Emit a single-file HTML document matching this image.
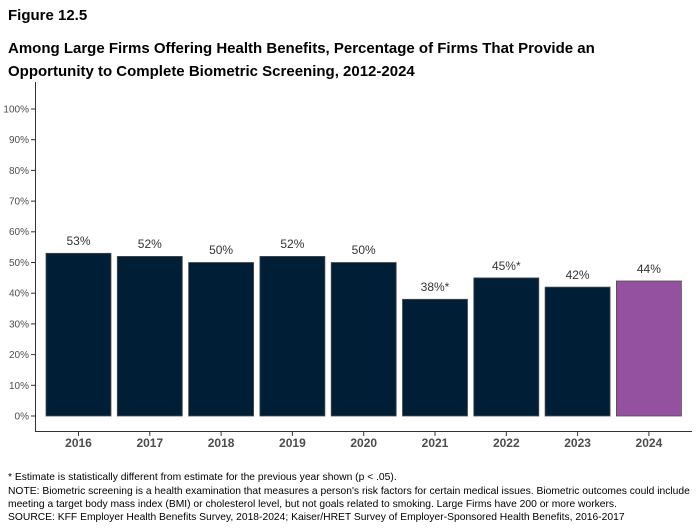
<!DOCTYPE html>
<html><head><style>
body{margin:0;background:#fff;font-family:"Liberation Sans",Arial,sans-serif;}
</style></head><body>
<svg width="698" height="525" xmlns="http://www.w3.org/2000/svg" font-family="Liberation Sans, Arial, sans-serif">
<text x="8" y="20" font-size="15" font-weight="bold">Figure 12.5</text>
<text x="8" y="53" font-size="15" font-weight="bold">Among Large Firms Offering Health Benefits, Percentage of Firms That Provide an</text>
<text x="8" y="76" font-size="15" font-weight="bold">Opportunity to Complete Biometric Screening, 2012-2024</text>
<g font-size="10" fill="#4d4d4d" text-anchor="end">
<text x="29" y="419.5">0%</text><text x="29" y="389">10%</text><text x="29" y="358">20%</text><text x="29" y="327.5">30%</text><text x="29" y="296.5">40%</text><text x="29" y="266">50%</text><text x="29" y="235">60%</text><text x="29" y="204.5">70%</text><text x="29" y="174">80%</text><text x="29" y="143">90%</text><text x="29" y="112.5">100%</text>
</g>
<g stroke="#333" stroke-width="1">
<line x1="31" x2="35" y1="416" y2="416"/><line x1="31" x2="35" y1="385.3" y2="385.3"/><line x1="31" x2="35" y1="354.6" y2="354.6"/><line x1="31" x2="35" y1="323.9" y2="323.9"/><line x1="31" x2="35" y1="293.2" y2="293.2"/><line x1="31" x2="35" y1="262.5" y2="262.5"/><line x1="31" x2="35" y1="231.8" y2="231.8"/><line x1="31" x2="35" y1="201.1" y2="201.1"/><line x1="31" x2="35" y1="170.4" y2="170.4"/><line x1="31" x2="35" y1="139.7" y2="139.7"/><line x1="31" x2="35" y1="109" y2="109"/>
</g>
<g stroke="#4d4d4d" stroke-width="0.8">
<rect x="46" y="253.3" width="65" height="162.7" fill="#001f36"/>
<rect x="117.3" y="256.4" width="65" height="159.6" fill="#001f36"/>
<rect x="188.6" y="262.5" width="65" height="153.5" fill="#001f36"/>
<rect x="259.9" y="256.4" width="65" height="159.6" fill="#001f36"/>
<rect x="331.2" y="262.5" width="65" height="153.5" fill="#001f36"/>
<rect x="402.5" y="299.3" width="65" height="116.7" fill="#001f36"/>
<rect x="473.8" y="277.9" width="65" height="138.1" fill="#001f36"/>
<rect x="545.1" y="287.1" width="65" height="128.9" fill="#001f36"/>
<rect x="616.4" y="281" width="65" height="135" fill="#9451a0"/>
</g>
<g font-size="12" fill="#333" text-anchor="middle">
<text x="78.5" y="245">53%</text><text x="149.8" y="248">52%</text><text x="221.1" y="254">50%</text><text x="292.4" y="248">52%</text><text x="363.7" y="254">50%</text><text x="435" y="291">38%*</text><text x="506.3" y="270">45%*</text><text x="577.6" y="279">42%</text><text x="648.9" y="273">44%</text>
</g>
<line x1="35.5" y1="82" x2="35.5" y2="432" stroke="#333"/>
<line x1="35" y1="431.5" x2="692" y2="431.5" stroke="#333"/>
<g stroke="#333"><line x1="78.5" x2="78.5" y1="432" y2="436"/><line x1="149.8" x2="149.8" y1="432" y2="436"/><line x1="221.1" x2="221.1" y1="432" y2="436"/><line x1="292.4" x2="292.4" y1="432" y2="436"/><line x1="363.7" x2="363.7" y1="432" y2="436"/><line x1="435" x2="435" y1="432" y2="436"/><line x1="506.3" x2="506.3" y1="432" y2="436"/><line x1="577.6" x2="577.6" y1="432" y2="436"/><line x1="648.9" x2="648.9" y1="432" y2="436"/></g>
<g font-size="12" font-weight="bold" fill="#4d4d4d" text-anchor="middle">
<text x="78.5" y="447">2016</text><text x="149.8" y="447">2017</text><text x="221.1" y="447">2018</text><text x="292.4" y="447">2019</text><text x="363.7" y="447">2020</text><text x="435" y="447">2021</text><text x="506.3" y="447">2022</text><text x="577.6" y="447">2023</text><text x="648.9" y="447">2024</text>
</g>
<g font-size="10.3" fill="#000">
<text x="8" y="480">* Estimate is statistically different from estimate for the previous year shown (p &lt; .05).</text>
<text x="8" y="494">NOTE: Biometric screening is a health examination that measures a person's risk factors for certain medical issues. Biometric outcomes could include</text>
<text x="8" y="507">meeting a target body mass index (BMI) or cholesterol level, but not goals related to smoking. Large Firms have 200 or more workers.</text>
<text x="8" y="520">SOURCE: KFF Employer Health Benefits Survey, 2018-2024; Kaiser/HRET Survey of Employer-Sponsored Health Benefits, 2016-2017</text>
</g>
</svg>
</body></html>
